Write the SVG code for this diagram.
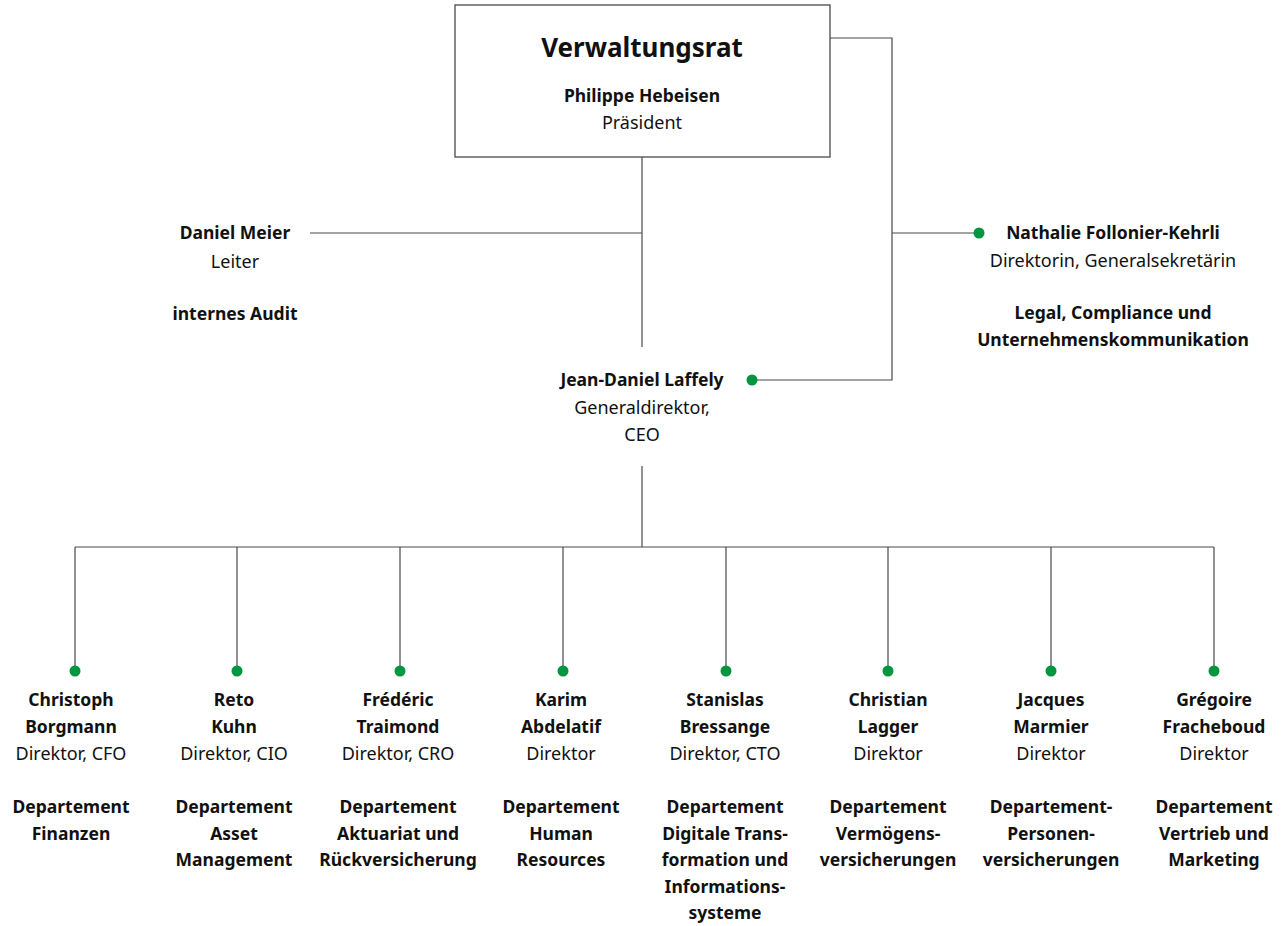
<svg xmlns="http://www.w3.org/2000/svg" width="1288" height="926" viewBox="0 0 1288 926">
<style>
text{font-family:"Noto Sans","Liberation Sans",sans-serif;fill:#111;text-anchor:middle;font-size:18px}
.b{font-weight:bold;font-size:17.5px}
.t{font-weight:bold;font-size:26px}
.ln{fill:none;stroke:#4a4a4a;stroke-width:1.2}
.box{fill:#fff;stroke:#4a4a4a;stroke-width:1.3}
.dot{fill:#009640}
</style>
<rect width="1288" height="926" fill="#fff"/>
<g id="connectors" class="ln">
<path d="M642 157V347"/>
<path d="M310 233H642"/>
<path d="M830 38H892V380H752"/>
<path d="M892 233H979"/>
<path d="M642 466V547"/>
<path d="M75 547H1214"/>
<path d="M75 547V671M237 547V671M400 547V671M563 547V671M726 547V671M888 547V671M1051 547V671M1214 547V671"/>
</g>
<g id="dots">
<circle class="dot" cx="979" cy="233" r="5.5"/>
<circle class="dot" cx="752" cy="380" r="5.5"/>
<circle class="dot" cx="75" cy="671" r="5.5"/>
<circle class="dot" cx="237" cy="671" r="5.5"/>
<circle class="dot" cx="400" cy="671" r="5.5"/>
<circle class="dot" cx="563" cy="671" r="5.5"/>
<circle class="dot" cx="726" cy="671" r="5.5"/>
<circle class="dot" cx="888" cy="671" r="5.5"/>
<circle class="dot" cx="1051" cy="671" r="5.5"/>
<circle class="dot" cx="1214" cy="671" r="5.5"/>
</g>
<g id="verwaltungsrat">
<rect class="box" x="455" y="5" width="375" height="152"/>
<text class="t" x="642" y="57">Verwaltungsrat</text>
<text class="b" x="642" y="102">Philippe Hebeisen</text>
<text x="642" y="129">Präsident</text>
</g>
<g id="audit">
<text class="b" x="235" y="239">Daniel Meier</text>
<text x="235" y="268">Leiter</text>
<text class="b" x="235" y="320">internes Audit</text>
</g>
<g id="generalsekretariat">
<text class="b" x="1113" y="239">Nathalie Follonier-Kehrli</text>
<text x="1113" y="267">Direktorin, Generalsekretärin</text>
<text class="b" x="1113" y="319">Legal, Compliance und</text>
<text class="b" x="1113" y="346">Unternehmenskommunikation</text>
</g>
<g id="ceo">
<text class="b" x="642" y="386">Jean-Daniel Laffely</text>
<text x="642" y="414">Generaldirektor,</text>
<text x="642" y="441">CEO</text>
</g>
<g id="finanzen">
<text class="b" x="71" y="706">Christoph</text>
<text class="b" x="71" y="733">Borgmann</text>
<text x="71" y="760">Direktor, CFO</text>
<text class="b" x="71" y="813">Departement</text>
<text class="b" x="71" y="840">Finanzen</text>
</g>
<g id="asset">
<text class="b" x="234" y="706">Reto</text>
<text class="b" x="234" y="733">Kuhn</text>
<text x="234" y="760">Direktor, CIO</text>
<text class="b" x="234" y="813">Departement</text>
<text class="b" x="234" y="840">Asset</text>
<text class="b" x="234" y="866">Management</text>
</g>
<g id="aktuariat">
<text class="b" x="398" y="706">Frédéric</text>
<text class="b" x="398" y="733">Traimond</text>
<text x="398" y="760">Direktor, CRO</text>
<text class="b" x="398" y="813">Departement</text>
<text class="b" x="398" y="840">Aktuariat und</text>
<text class="b" x="398" y="866">Rückversicherung</text>
</g>
<g id="hr">
<text class="b" x="561" y="706">Karim</text>
<text class="b" x="561" y="733">Abdelatif</text>
<text x="561" y="760">Direktor</text>
<text class="b" x="561" y="813">Departement</text>
<text class="b" x="561" y="840">Human</text>
<text class="b" x="561" y="866">Resources</text>
</g>
<g id="digital">
<text class="b" x="725" y="706">Stanislas</text>
<text class="b" x="725" y="733">Bressange</text>
<text x="725" y="760">Direktor, CTO</text>
<text class="b" x="725" y="813">Departement</text>
<text class="b" x="725" y="840">Digitale Trans-</text>
<text class="b" x="725" y="866">formation und</text>
<text class="b" x="725" y="893">Informations-</text>
<text class="b" x="725" y="919">systeme</text>
</g>
<g id="vermoegen">
<text class="b" x="888" y="706">Christian</text>
<text class="b" x="888" y="733">Lagger</text>
<text x="888" y="760">Direktor</text>
<text class="b" x="888" y="813">Departement</text>
<text class="b" x="888" y="840">Vermögens-</text>
<text class="b" x="888" y="866">versicherungen</text>
</g>
<g id="personen">
<text class="b" x="1051" y="706">Jacques</text>
<text class="b" x="1051" y="733">Marmier</text>
<text x="1051" y="760">Direktor</text>
<text class="b" x="1051" y="813">Departement-</text>
<text class="b" x="1051" y="840">Personen-</text>
<text class="b" x="1051" y="866">versicherungen</text>
</g>
<g id="vertrieb">
<text class="b" x="1214" y="706">Grégoire</text>
<text class="b" x="1214" y="733">Fracheboud</text>
<text x="1214" y="760">Direktor</text>
<text class="b" x="1214" y="813">Departement</text>
<text class="b" x="1214" y="840">Vertrieb und</text>
<text class="b" x="1214" y="866">Marketing</text>
</g>
</svg>
